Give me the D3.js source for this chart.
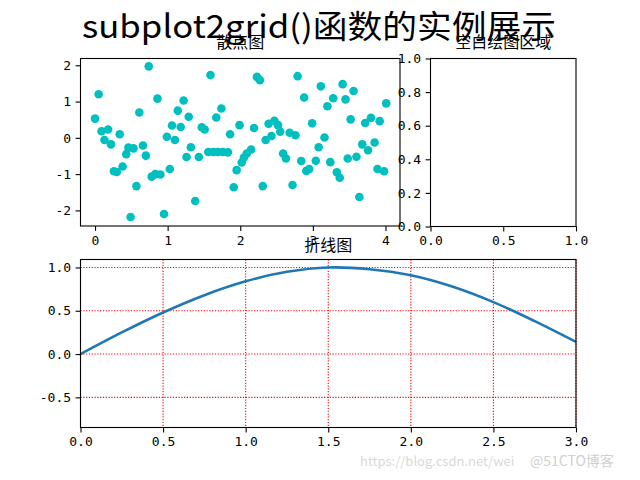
<!DOCTYPE html>
<html>
<head>
<meta charset="utf-8">
<script src="https://cdn.jsdelivr.net/npm/d3@7"></script>
<style>
  body { margin: 0; background: #fff; }
  svg { display: block; }
  .tick text { font-family: "DejaVu Sans Mono", "Liberation Mono", monospace; font-size: 13px; fill: #000; }
  .tick line { stroke: #000; stroke-width: 1.1; }
  .title { font-family: "Noto Sans CJK SC", sans-serif; font-size: 16px; fill: #000; }
</style>
</head>
<body>
<svg id="fig" width="640" height="480"></svg>
<script>
// 散点图的数据
const scatterX = [0.00, 0.05, 0.09, 0.13, 0.18, 0.22, 0.26, 0.30, 0.34, 0.38,
  0.43, 0.46, 0.49, 0.53, 0.57, 0.61, 0.66, 0.70, 0.74, 0.78,
  0.83, 0.86, 0.90, 0.95, 0.99, 1.03, 1.06, 1.10, 1.14, 1.18,
  1.22, 1.26, 1.29, 1.32, 1.38, 1.43, 1.47, 1.51, 1.56, 1.59,
  1.63, 1.67, 1.69, 1.74, 1.76, 1.83, 1.86, 1.91, 1.95, 1.99,
  2.02, 2.05, 2.09, 2.15, 2.19, 2.23, 2.27, 2.31, 2.35, 2.39,
  2.43, 2.47, 2.52, 2.55, 2.59, 2.63, 2.68, 2.72, 2.76, 2.79,
  2.84, 2.88, 2.91, 2.95, 2.99, 3.04, 3.08, 3.11, 3.16, 3.20,
  3.24, 3.28, 3.33, 3.37, 3.41, 3.45, 3.48, 3.52, 3.56, 3.60,
  3.64, 3.68, 3.72, 3.76, 3.80, 3.85, 3.89, 3.92, 3.98, 4.01];
const scatterY = [0.53, 1.20, 0.18, -0.06, 0.23, -0.18, -0.92, -0.94, 0.10, -0.79,
  -0.45, -0.27, -2.18, -0.29, -1.33, 0.70, -0.21, -0.49, 1.97, -1.07,
  -1.00, 1.08, -1.01, -2.10, 0.03, -0.86, 0.34, -0.06, 0.75, 0.30,
  1.03, -0.53, 0.58, -0.26, -1.74, -0.53, 0.29, 0.23, -0.39, 1.73,
  -0.39, 0.56, -0.39, 0.81, -0.39, -0.40, 0.10, -1.36, -0.89, 0.35,
  -0.68, -0.54, -0.43, -0.32, 0.27, 1.68, 1.59, -1.33, -0.06, 0.39,
  0.05, 0.47, 0.35, 0.17, -0.43, -0.57, 0.14, -1.30, 0.07, 1.70,
  -0.64, 1.11, -0.91, -0.86, 0.40, -0.63, -0.26, 1.42, 0.01, 0.87,
  -0.67, 1.09, -0.95, -1.10, 1.48, 1.06, -0.57, 0.51, 1.29, -0.52,
  -1.63, -0.18, 0.41, -0.34, 0.55, -0.13, -0.86, 0.46, -0.92, 0.95];

// 折线图的数据
const lineX = [0, 0.25, 0.5, 0.75, 1.0, 1.25, 1.5, 1.75, 2.0, 2.25, 2.5, 2.75, 3.0];
const lineY = [0, 0.25, 0.48, 0.68, 0.84, 0.95, 1.0, 0.98, 0.91, 0.78, 0.60, 0.38, 0.14];

// 刻度
const scatterXTicks = [0, 1, 2, 3, 4];
const scatterYTicks = [-2, -1, 0, 1, 2];
const blankXTicks = [0, 0.5, 1.0];
const blankYTicks = [0, 0.2, 0.4, 0.6, 0.8, 1.0];
const lineXTicks = [0, 0.5, 1.0, 1.5, 2.0, 2.5, 3.0];
const lineYTicks = [-0.5, 0, 0.5, 1.0];

const svg = d3.select("#fig");
const fmtInt = d => String(d).replace("\u2212", "-");
const fmt1 = d => d3.format(".1f")(d).replace("\u2212", "-");

// 画坐标轴的通用函数
function drawAxes(box, xs, ys, xt, yt, xf, yf) {
  const g = svg.append("g");
  g.append("g")
    .attr("transform", `translate(0,${box.bottom})`)
    .call(d3.axisBottom(xs).tickValues(xt).tickFormat(xf).tickSize(4.9).tickPadding(4.5))
    .call(a => a.select(".domain").remove());
  g.append("g")
    .attr("transform", `translate(${box.left},0)`)
    .call(d3.axisLeft(ys).tickValues(yt).tickFormat(yf).tickSize(4.9).tickPadding(4.5))
    .call(a => a.select(".domain").remove());
  return g;
}
function drawFrame(box) {
  svg.append("rect")
    .attr("x", box.left).attr("y", box.top)
    .attr("width", box.right - box.left).attr("height", box.bottom - box.top)
    .attr("fill", "none").attr("stroke", "#000").attr("stroke-width", 1.1);
}

// 总标题
svg.append("text")
  .attr("x", 82).attr("y", 38)
  .attr("textLength", 474).attr("lengthAdjust", "spacingAndGlyphs")
  .style("font-family", "'Noto Sans CJK SC', sans-serif")
  .style("font-size", "32px")
  .text("subplot2grid()函数的实例展示");

// 散点图
const box1 = {left: 80.5, right: 400, top: 58.5, bottom: 226};
const x1 = d3.scaleLinear().domain([-0.2, 4.2]).range([box1.left, box1.right]);
const y1 = d3.scaleLinear().domain([-2.43, 2.187]).range([box1.bottom, box1.top]);
drawAxes(box1, x1, y1, scatterXTicks, scatterYTicks, fmtInt, fmtInt);
svg.append("g").selectAll("circle")
  .data(scatterX.map((x, i) => [x, scatterY[i]]))
  .enter().append("circle")
  .attr("cx", d => x1(d[0]))
  .attr("cy", d => y1(d[1]))
  .attr("r", 4.3)
  .attr("fill", "#00bfbf");
drawFrame(box1);
svg.append("text").attr("class", "title")
  .attr("x", (box1.left + box1.right) / 2).attr("y", 48)
  .attr("text-anchor", "middle").text("散点图");

// 空白绘图区域
const box2 = {left: 430.5, right: 576, top: 58.5, bottom: 226.5};
const x2 = d3.scaleLinear().domain([0, 1]).range([box2.left, box2.right]);
const y2 = d3.scaleLinear().domain([0, 1]).range([box2.bottom, box2.top]);
drawAxes(box2, x2, y2, blankXTicks, blankYTicks, fmt1, fmt1);
drawFrame(box2);
svg.append("text").attr("class", "title")
  .attr("x", (box2.left + box2.right) / 2).attr("y", 48)
  .attr("text-anchor", "middle").text("空白绘图区域");

// 折线图
const box3 = {left: 80.5, right: 576, top: 259.5, bottom: 427.5};
const x3 = d3.scaleLinear().domain([0, 3]).range([box3.left, box3.right]);
const y3 = d3.scaleLinear().domain([-0.848, 1.092]).range([box3.bottom, box3.top]);
const grid = svg.append("g");
grid.selectAll("line.gx").data(lineXTicks).enter().append("line")
  .attr("x1", d => x3(d)).attr("x2", d => x3(d))
  .attr("y1", box3.top).attr("y2", box3.bottom);
grid.selectAll("line.gy").data(lineYTicks).enter().append("line")
  .attr("x1", box3.left).attr("x2", box3.right)
  .attr("y1", d => y3(d)).attr("y2", d => y3(d));
grid.selectAll("line")
  .attr("stroke", "#ff0000").attr("stroke-width", 1.1)
  .attr("stroke-dasharray", "1.2,1.6");
svg.append("path")
  .datum(lineX.map((x, i) => [x, lineY[i]]))
  .attr("fill", "none")
  .attr("stroke", "#1f77b4")
  .attr("stroke-width", 2.6)
  .attr("d", d3.line().x(d => x3(d[0])).y(d => y3(d[1])).curve(d3.curveCatmullRom));
drawAxes(box3, x3, y3, lineXTicks, lineYTicks, fmt1, fmt1);
drawFrame(box3);
svg.append("text").attr("class", "title")
  .attr("x", (box3.left + box3.right) / 2).attr("y", 251)
  .attr("text-anchor", "middle").text("折线图");

// 水印
svg.append("text")
  .attr("x", 360).attr("y", 466)
  .style("font-family", "'Noto Sans CJK SC', sans-serif").style("font-size", "13px")
  .attr("fill", "#d9d9d9")
  .text("https://blog.csdn.net/wei");
svg.append("text")
  .attr("x", 530).attr("y", 466)
  .style("font-family", "'Noto Sans CJK SC', sans-serif").style("font-size", "14px")
  .attr("fill", "#d0d0d0")
  .text("@51CTO博客");
</script>
</body>
</html>
